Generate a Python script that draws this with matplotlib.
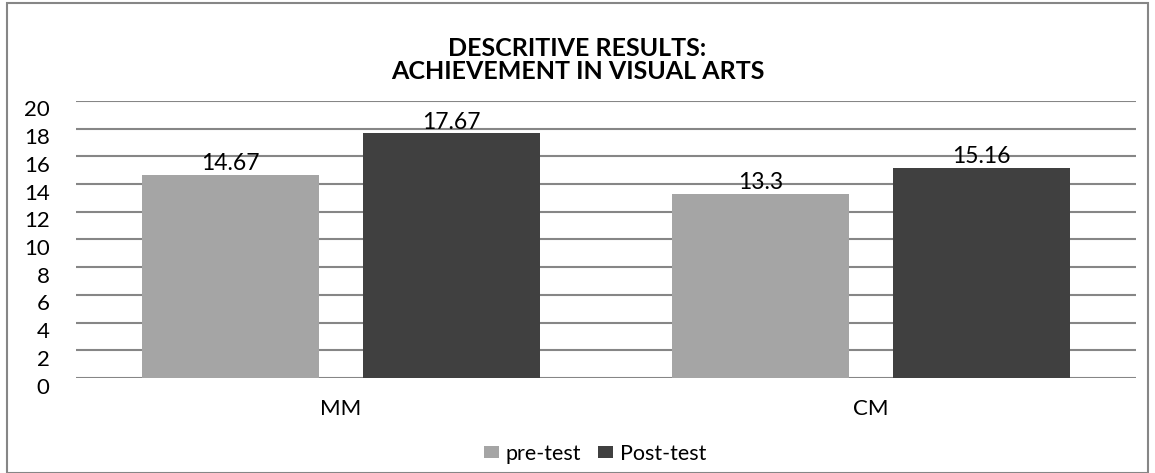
import matplotlib.pyplot as plt
import matplotlib.transforms as mtransforms
import numpy as np
from matplotlib.patches import Rectangle

categories = ['MM', 'CM']
pre_test = [14.67, 13.3]
post_test = [17.67, 15.16]
pre_labels = ['14.67', '13.3']
post_labels = ['17.67', '15.16']
y_ticks = list(range(0, 21, 2))

plt.rcParams['font.family'] = ['Lato', 'DejaVu Sans']

fig = plt.figure(figsize=(11.55, 4.73), dpi=100)
ax = fig.add_axes([76 / 1155, 1 - 378 / 473, 1060 / 1155, 277 / 473])

x = np.arange(len(categories))
width = 0.334
offset = 0.2085
bars_pre = ax.bar(x - offset, pre_test, width, color='#a5a5a5', label='pre-test', zorder=3)
bars_post = ax.bar(x + offset, post_test, width, color='#404040', label='Post-test', zorder=3)

for bars, labels in ((bars_pre, pre_labels), (bars_post, post_labels)):
    for bar, lab in zip(bars, labels):
        ax.text(bar.get_x() + bar.get_width() / 2, bar.get_height() + 0.05, lab,
                ha='center', va='bottom', fontsize=16.5, zorder=4)

ax.set_xlim(-0.5, 1.5)
ax.set_ylim(0, 20)
ax.set_yticks(y_ticks)
ax.set_yticklabels([str(t) for t in y_ticks], fontsize=16)
ax.set_xticks(x)
ax.set_xticklabels(categories, fontsize=16)
ax.tick_params(axis='y', length=0, pad=19)
ax.tick_params(axis='x', length=0, pad=15)
# excel puts the axis labels a little under their gridline
shift = mtransforms.ScaledTranslation(0, -7.5 / 100, fig.dpi_scale_trans)
for lbl in ax.get_yticklabels():
    lbl.set_transform(lbl.get_transform() + shift)
ax.grid(axis='y', color='#868686', linewidth=1.5, zorder=0)
for s in ax.spines.values():
    s.set_visible(False)

fig.text(0.5, 1 - 60 / 473, 'DESCRITIVE RESULTS:\nACHIEVEMENT IN VISUAL ARTS',
         ha='center', va='center', fontsize=18, fontweight='bold', linespacing=1.05)

fig.legend(loc='center', bbox_to_anchor=(595 / 1155, 1 - 454 / 473), ncol=2, frameon=False,
           fontsize=15.5, handlelength=0.7, handleheight=0.47, handletextpad=0.33,
           columnspacing=0.75)

fig.patches.append(Rectangle((7 / 1155, 0), 1141 / 1155, 1 - 3 / 473, transform=fig.transFigure,
                             fill=False, edgecolor='#868686', linewidth=1.5))

fig.savefig('out.png', dpi=100)
